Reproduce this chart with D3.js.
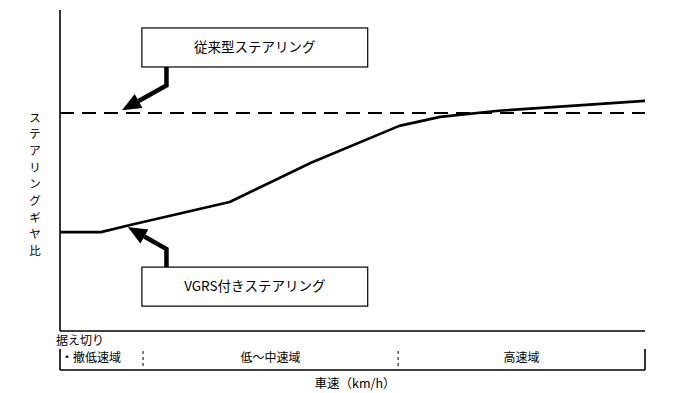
<!DOCTYPE html>
<html>
<head>
<meta charset="utf-8">
<script src="https://cdn.jsdelivr.net/npm/d3@7"></script>
<style>
  body { margin: 0; background: #fff; }
  svg { display: block; }
  text { font-family: "Noto Sans CJK JP", sans-serif; fill: #000; }
</style>
</head>
<body>
<svg></svg>
<script>
const width = 688;
const height = 393;

// vehicle speed (relative, 0-100) vs steering gear ratio (relative, 0-100)
const vgrsSpeed = [0, 7, 12, 29, 43, 58, 65, 75, 100];
const vgrsRatio = [30.8, 30.8, 33, 40.2, 52.5, 63.9, 66.7, 68.6, 71.7];
const conventionalRatio = 67.9;

const zoneNames = ["・撤低速域", "低～中速域", "高速域"];
const zoneBounds = [0, 14.2, 57.8, 100];

const svg = d3.select("svg")
  .attr("width", width)
  .attr("height", height);

const x = d3.scaleLinear().domain([0, 100]).range([60, 645]);
const y = d3.scaleLinear().domain([0, 100]).range([331, 10]);

// axes
svg.append("line")
  .attr("x1", x(0)).attr("x2", x(0))
  .attr("y1", y(100)).attr("y2", y(0))
  .attr("stroke", "#000").attr("stroke-width", 1.6);
svg.append("line")
  .attr("x1", x(0)).attr("x2", x(100))
  .attr("y1", y(0)).attr("y2", y(0))
  .attr("stroke", "#000").attr("stroke-width", 1.6);

// conventional steering (constant)
svg.append("line")
  .attr("x1", x(0)).attr("x2", x(100))
  .attr("y1", y(conventionalRatio)).attr("y2", y(conventionalRatio))
  .attr("stroke", "#000")
  .attr("stroke-width", 2)
  .attr("stroke-dasharray", "14,8");

// VGRS steering
const line = d3.line()
  .x((d, i) => x(vgrsSpeed[i]))
  .y(d => y(d));

svg.append("path")
  .datum(vgrsRatio)
  .attr("fill", "none")
  .attr("stroke", "#000")
  .attr("stroke-width", 2.6)
  .attr("stroke-linejoin", "round")
  .attr("d", line);

// callouts
function callout(label, bx, by, stemX, stemY, tipX, tipY) {
  const g = svg.append("g");
  const bw = x(38.6) - x(0);
  g.append("rect")
    .attr("x", x(bx)).attr("y", y(by))
    .attr("width", bw).attr("height", 39)
    .attr("fill", "#fff").attr("stroke", "#000").attr("stroke-width", 1.2);
  g.append("text")
    .attr("x", x(bx) + bw / 2)
    .attr("y", y(by) + 24)
    .attr("text-anchor", "middle")
    .attr("font-size", 13.5)
    .text(label);

  const sx = x(stemX), sy = y(stemY), tx = x(tipX), ty = y(tipY);
  const top = sy < ty ? y(by) + 39 : y(by);
  const dx = tx - sx, dy = ty - sy;
  const len = Math.hypot(dx, dy);
  const ux = dx / len, uy = dy / len;
  const headLen = 19, headW = 8;
  const bxp = tx - ux * headLen, byp = ty - uy * headLen;

  g.append("path")
    .attr("d", `M${sx},${top}L${sx},${sy}L${bxp},${byp}`)
    .attr("fill", "none")
    .attr("stroke", "#000")
    .attr("stroke-width", 4.5)
    .attr("stroke-linejoin", "miter");
  g.append("path")
    .attr("d", `M${tx},${ty}L${bxp - uy * headW},${byp + ux * headW}L${bxp + uy * headW},${byp - ux * headW}Z`)
    .attr("fill", "#000");
}

callout("従来型ステアリング", 14, 94.4, 18.2, 76.5, 10.6, 68.8);
callout("VGRS付きステアリング", 14, 19.9, 18.2, 25.5, 11.6, 32.4);

// y label, one character per line
const yLabel = "ステアリングギヤ比";
svg.append("text")
  .attr("transform", `translate(35, 111)`)
  .selectAll("tspan")
  .data(yLabel.split(""))
  .join("tspan")
  .attr("x", 0)
  .attr("dy", (d, i) => i === 0 ? 10.5 : 16.7)
  .attr("text-anchor", "middle")
  .attr("font-size", 11.5)
  .text(d => d);

// speed zones band
const bandTop = 349, bandBottom = 370;
svg.append("line")
  .attr("x1", x(0)).attr("x2", x(100))
  .attr("y1", bandBottom).attr("y2", bandBottom)
  .attr("stroke", "#000").attr("stroke-width", 1.6);
[0, 100].forEach(v => {
  svg.append("line")
    .attr("x1", x(v)).attr("x2", x(v))
    .attr("y1", bandTop).attr("y2", bandBottom)
    .attr("stroke", "#000").attr("stroke-width", 1.6);
});
zoneBounds.slice(1, -1).forEach(v => {
  svg.append("line")
    .attr("x1", x(v)).attr("x2", x(v))
    .attr("y1", bandTop + 2).attr("y2", bandBottom - 2)
    .attr("stroke", "#000").attr("stroke-width", 1)
    .attr("stroke-dasharray", "3,3");
});

svg.append("text")
  .attr("x", x(0) - 4).attr("y", 345)
  .attr("font-size", 12)
  .text("据え切り");

svg.selectAll("text.zone")
  .data(zoneNames)
  .join("text")
  .attr("class", "zone")
  .attr("x", (d, i) => i === 0 ? x(0) + 1 : (x(zoneBounds[i]) + x(zoneBounds[i + 1])) / 2)
  .attr("y", 362)
  .attr("text-anchor", (d, i) => i === 0 ? "start" : "middle")
  .attr("font-size", 12)
  .text(d => d);

svg.append("text")
  .attr("x", 355).attr("y", 388)
  .attr("text-anchor", "middle")
  .attr("font-size", 12.5)
  .text("車速（km/h）");
</script>
</body>
</html>
